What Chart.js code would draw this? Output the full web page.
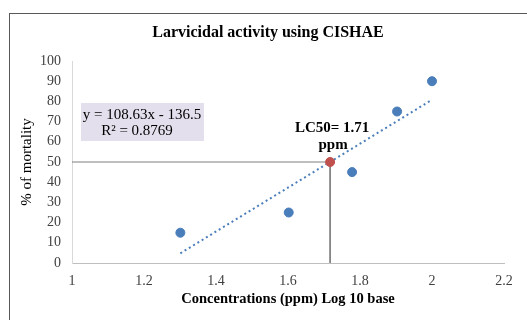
<!DOCTYPE html>
<html>
<head>
<meta charset="utf-8">
<script src="https://cdn.jsdelivr.net/npm/chart.js@4.4.1/dist/chart.umd.min.js"></script>
<style>
  html, body { margin: 0; padding: 0; background: #fff; }
  #wrap { width: 527px; height: 320px; }
</style>
</head>
<body>
<div id="wrap"><canvas id="chart" width="527" height="320"></canvas></div>
<script>
// log10 concentrations and mortality
const logConc = [1.301, 1.602, 1.778, 1.903, 2.0];
const mortality = [15, 25, 45, 75, 90];
// trend line ends (y = 108.63x - 136.5)
const trendX = [1.301, 2.0];
const trendY = [4.8, 80.8];
// LC50 point
const lc50X = 1.717;
const lc50Y = 50;
const xTicks = [1, 1.2, 1.4, 1.6, 1.8, 2, 2.2];
const yTicks = [0, 10, 20, 30, 40, 50, 60, 70, 80, 90, 100];

const serif = "'Liberation Serif', 'Times New Roman', serif";

const toPoints = (xs, ys) => xs.map((x, i) => ({ x: x, y: ys[i] }));

const extras = {
  id: 'extras',
  beforeDraw(chart) {
    const ctx = chart.ctx;
    ctx.save();
    ctx.fillStyle = '#fff';
    ctx.fillRect(0, 0, chart.width, chart.height);
    ctx.strokeStyle = '#595959';
    ctx.lineWidth = 1;
    ctx.strokeRect(9.5, 13.5, 700, 500);
    ctx.restore();
  },
  afterDraw(chart) {
    const ctx = chart.ctx;
    const xs = chart.scales.x, ys = chart.scales.y;
    ctx.save();
    // title
    ctx.fillStyle = '#000';
    ctx.textAlign = 'center';
    ctx.textBaseline = 'middle';
    ctx.font = 'bold 16px ' + serif;
    ctx.fillText('Larvicidal activity using CISHAE', 268, 33);
    // equation box
    ctx.fillStyle = '#e4dfec';
    ctx.fillRect(81, 103, 123, 38);
    ctx.fillStyle = '#000';
    ctx.font = '15px ' + serif;
    ctx.fillText('y = 108.63x - 136.5', 142, 115);
    ctx.fillText('R\u00b2 = 0.8769', 137, 131);
    // LC50 label
    const px = xs.getPixelForValue(lc50X);
    const py = ys.getPixelForValue(lc50Y);
    ctx.font = 'bold 15px ' + serif;
    ctx.fillText('LC50= 1.71', px + 2, py - 34);
    ctx.fillText('ppm', px + 3, py - 17);
    ctx.restore();
  }
};

new Chart(document.getElementById('chart'), {
  type: 'scatter',
  data: {
    datasets: [
      {
        label: 'LC50',
        data: [{ x: lc50X, y: lc50Y }],
        backgroundColor: '#c0504d',
        borderColor: '#c0504d',
        pointRadius: 4.5,
      },
      {
        label: 'Mortality',
        data: toPoints(logConc, mortality),
        backgroundColor: '#4a7ebb',
        borderColor: '#4a7ebb',
        pointRadius: 4.5,
      },
      {
        label: 'Trend',
        data: toPoints(trendX, trendY),
        showLine: true,
        borderColor: '#4a7ebb',
        borderWidth: 2,
        borderDash: [2, 3],
        pointRadius: 0,
      },
      {
        label: 'h',
        data: [{ x: xTicks[0], y: lc50Y }, { x: lc50X, y: lc50Y }],
        showLine: true,
        borderColor: '#7f7f7f',
        borderWidth: 1,
        pointRadius: 0,
      },
      {
        label: 'v',
        data: [{ x: lc50X, y: lc50Y }, { x: lc50X, y: yTicks[0] }],
        showLine: true,
        borderColor: '#7f7f7f',
        borderWidth: 1,
        pointRadius: 0,
      },
    ],
  },
  options: {
    responsive: false,
    animation: false,
    layout: { padding: { left: 0, right: 23, top: 61, bottom: 0 } },
    plugins: {
      legend: { display: false },
      tooltip: { enabled: false },
      title: { display: false },
    },
    scales: {
      x: {
        type: 'linear',
        min: 1,
        max: 2.2,
        afterBuildTicks: (s) => { s.ticks = xTicks.map(v => ({ value: v })); },
        afterFit: (s) => { s.height = 57; },
        grid: { display: false },
        border: { display: true, color: '#bfbfbf' },
        ticks: {
          padding: 2,
          color: '#404040',
          font: { family: serif, size: 14 },
          callback: (v) => String(v),
        },
        title: {
          display: true,
          text: 'Concentrations (ppm) Log 10 base',
          color: '#000',
          font: { family: serif, size: 14.5, weight: 'bold' },
          padding: { top: 0, bottom: 12 },
        },
      },
      y: {
        min: 0,
        max: 100,
        afterBuildTicks: (s) => { s.ticks = yTicks.map(v => ({ value: v })); },
        afterFit: (s) => { s.width = 72; },
        grid: { display: false },
        border: { display: true, color: '#d9d9d9' },
        ticks: {
          padding: 3,
          color: '#404040',
          font: { family: serif, size: 14 },
        },
        title: {
          display: true,
          text: '% of mortality',
          color: '#000',
          font: { family: serif, size: 15 },
          padding: { top: 18, bottom: 0 },
        },
      },
    },
  },
  plugins: [extras],
});
</script>
</body>
</html>
